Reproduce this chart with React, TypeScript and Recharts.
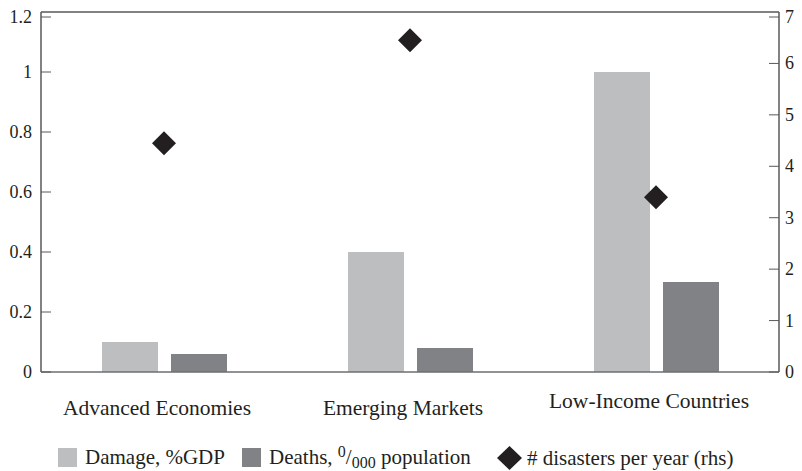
import { ComposedChart, Bar, Line, XAxis, YAxis, ReferenceLine, Legend } from 'recharts'

const categories = ['Advanced Economies', 'Emerging Markets', 'Low-Income Countries']
const damage = [0.1, 0.4, 1.0]
const deaths = [0.06, 0.08, 0.3]
const disasters = [4.45, 6.45, 3.4]
const leftTicks = [0, 0.2, 0.4, 0.6, 0.8, 1, 1.2]
const rightTicks = [0, 1, 2, 3, 4, 5, 6, 7]

const data = categories.map((name, i) => ({
    name,
    damage: damage[i],
    deaths: deaths[i],
    disasters: disasters[i],
}))

const FONT = '"Liberation Serif", "DejaVu Serif", serif'
const AXIS = '#58595b'
const LIGHT = '#bcbec0'
const DARK = '#808285'
const INK = '#231f20'

const Diamond = (props: any) => {
    const { cx, cy } = props
    if (cx == null || cy == null) return null
    return <path d={`M${cx},${cy - 12} L${cx + 12},${cy} L${cx},${cy + 12} L${cx - 12},${cy} Z`} fill={INK} />
}

const LeftTick = (props: any) => {
    const { x, y, payload } = props
    return (
        <g>
            <line x1={x + 9} x2={x + 19} y1={y} y2={y} stroke={AXIS} />
            <text x={x} y={y} dy={6} textAnchor="end" fontFamily={FONT} fontSize={18} fill={INK}>{payload.value}</text>
        </g>
    )
}

const RightTick = (props: any) => {
    const { x, y, payload } = props
    return (
        <g>
            <line x1={x - 16} x2={x - 6} y1={y} y2={y} stroke={AXIS} />
            <text x={x} y={y} dy={6} textAnchor="start" fontFamily={FONT} fontSize={18} fill={INK}>{payload.value}</text>
        </g>
    )
}

const CatTick = (props: any) => {
    const { x, y, payload } = props
    // last label sits a bit higher in the original
    const lift = payload.index === 2 ? -7 : 0
    return (
        <text x={x - 7} y={y + lift} dy={35} textAnchor="middle" fontFamily={FONT} fontSize={21.5} fill={INK}>{payload.value}</text>
    )
}

const Swatch = ({ color }: { color: string }) => (
    <span style={{ display: 'inline-block', width: 19, height: 19, background: color, marginRight: 8, verticalAlign: -3 }} />
)

const item = (left: number) => ({ position: 'absolute' as const, left, top: 25, whiteSpace: 'nowrap' as const })
const script = (top: number) => ({ fontSize: 16, position: 'relative' as const, top, lineHeight: 0 })

const LegendBox = () => (
    <div style={{ position: 'relative', height: 50, fontFamily: FONT, fontSize: 21, color: INK, lineHeight: '22px' }}>
        <span style={item(50)}><Swatch color={LIGHT} />Damage, %GDP</span>
        <span style={item(234)}><Swatch color={DARK} />Deaths, <span style={script(-7)}>0</span>/<span style={script(4)}>000</span> population</span>
        <span style={item(489)}>
            <svg width={25} height={24} style={{ verticalAlign: -5, marginRight: 5 }}>
                <path d="M12.5,0 L25,12 L12.5,24 L0,12 Z" fill={INK} />
            </svg>
            # disasters per year (rhs)
        </span>
    </div>
)

export default function App() {
    return (
        <ComposedChart
            width={794}
            height={463}
            data={data}
            margin={{ top: 4, right: 0, bottom: 0, left: 0 }}
            barGap={13}
        >
            <XAxis
                dataKey="name"
                height={49}
                axisLine={{ stroke: '#6d6e71', strokeWidth: 1.5 }}
                tickLine={false}
                tick={<CatTick />}
                interval={0}
            />
            <YAxis
                yAxisId="left"
                width={33}
                domain={[0, 1.2]}
                ticks={leftTicks}
                axisLine={{ stroke: AXIS, strokeWidth: 1.5 }}
                tickLine={false}
                tickSize={0}
                tickMargin={9}
                tick={<LeftTick />}
            />
            <YAxis
                yAxisId="right"
                orientation="right"
                width={23}
                domain={[0, 7]}
                ticks={rightTicks}
                axisLine={{ stroke: AXIS, strokeWidth: 1.5 }}
                tickLine={false}
                tickSize={0}
                tickMargin={6}
                tick={<RightTick />}
            />
            <ReferenceLine yAxisId="left" y={1.2} stroke={AXIS} strokeWidth={1.5} />
            <Legend verticalAlign="bottom" align="left" wrapperStyle={{ width: 794 }} content={<LegendBox />} />
            <Bar yAxisId="left" dataKey="damage" fill={LIGHT} barSize={56} isAnimationActive={false} />
            <Bar yAxisId="left" dataKey="deaths" fill={DARK} barSize={56} isAnimationActive={false} />
            <Line yAxisId="right" dataKey="disasters" stroke="none" dot={<Diamond />} activeDot={false} isAnimationActive={false} />
        </ComposedChart>
    )
}
